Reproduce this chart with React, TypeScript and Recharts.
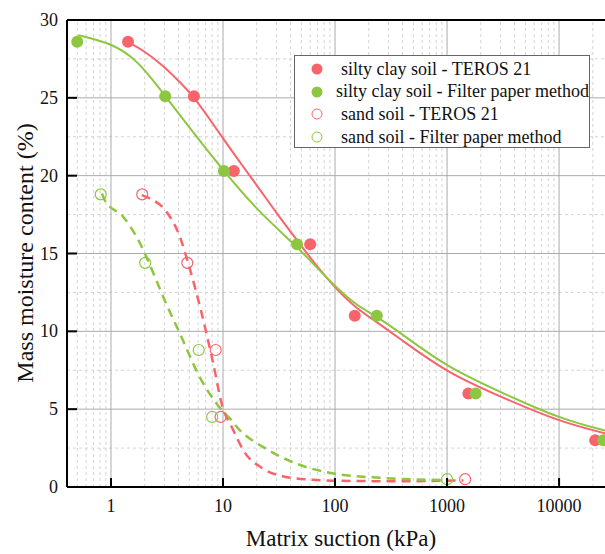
import { ComposedChart, XAxis, YAxis, Line, Scatter, ReferenceLine, Legend } from "recharts";

const RED = "#f8646b";
const GREEN = "#8dc63f";

// layout of the plot box inside the 605x554 svg
const W = 605;
const H = 554;
const PLOT_LEFT = 67;
const PLOT_TOP = 20;
const PLOT_BOTTOM = 487;

const xTicks = [1, 10, 100, 1000, 10000];
const yTicks = [0, 5, 10, 15, 20, 25, 30];
const yMinor = [2.5, 7.5, 12.5, 17.5, 22.5, 27.5];
const xMinor = [
  0.5, 0.6, 0.7, 0.8, 0.9,
  2, 3, 4, 5, 6, 7, 8, 9,
  20, 30, 40, 50, 60, 70, 80, 90,
  200, 300, 400, 500, 600, 700, 800, 900,
  2000, 3000, 4000, 5000, 6000, 7000, 8000, 9000,
  20000,
];

// measured points
const clayTeros = [
  { x: 1.42, y: 28.6 }, { x: 5.5, y: 25.1 }, { x: 12.5, y: 20.3 }, { x: 60, y: 15.6 },
  { x: 150, y: 11.0 }, { x: 1550, y: 6.0 }, { x: 21000, y: 3.0 },
];
const clayFilter = [
  { x: 0.5, y: 28.6 }, { x: 3.05, y: 25.1 }, { x: 10.2, y: 20.3 }, { x: 45.8, y: 15.6 },
  { x: 236, y: 11.0 }, { x: 1800, y: 6.0 }, { x: 24800, y: 3.0 },
];
const sandTeros = [
  { x: 1.9, y: 18.8 }, { x: 4.8, y: 14.4 }, { x: 8.6, y: 8.8 }, { x: 9.5, y: 4.5 }, { x: 1450, y: 0.5 },
];
const sandFilter = [
  { x: 0.81, y: 18.8 }, { x: 2.02, y: 14.4 }, { x: 6.07, y: 8.8 }, { x: 8.0, y: 4.5 }, { x: 1000, y: 0.5 },
];

// fitted curves
const clayTerosFit = [
  { x: 1.42, y: 28.57 }, { x: 2, y: 28.0 }, { x: 3, y: 27.0 }, { x: 4, y: 26.1 },
  { x: 5.5, y: 25.07 }, { x: 8, y: 23.4 }, { x: 10, y: 22.4 }, { x: 15, y: 20.6 },
  { x: 20, y: 19.4 }, { x: 30, y: 17.6 }, { x: 48.7, y: 15.6 }, { x: 70, y: 14.1 },
  { x: 100, y: 12.8 }, { x: 150, y: 11.55 }, { x: 236, y: 10.6 }, { x: 400, y: 9.4 },
  { x: 1000, y: 7.35 }, { x: 3000, y: 5.8 }, { x: 10000, y: 4.2 }, { x: 25700, y: 3.45 },
];
const clayFilterFit = [
  { x: 0.51, y: 29.03 }, { x: 1, y: 28.5 }, { x: 1.5, y: 27.7 }, { x: 2, y: 26.8 },
  { x: 3, y: 25.2 }, { x: 5, y: 23.1 }, { x: 10, y: 20.35 }, { x: 20, y: 17.8 },
  { x: 45.5, y: 15.45 }, { x: 70, y: 14.05 }, { x: 100, y: 12.9 }, { x: 150, y: 11.75 },
  { x: 236, y: 10.95 }, { x: 400, y: 9.8 }, { x: 1000, y: 7.7 }, { x: 3000, y: 6.1 },
  { x: 10000, y: 4.4 }, { x: 25700, y: 3.63 },
];
const sandTerosFit = [
  { x: 1.88, y: 18.75 }, { x: 2.23, y: 18.53 }, { x: 3.14, y: 17.67 }, { x: 4.13, y: 16.06 },
  { x: 4.9, y: 14.35 }, { x: 5.82, y: 12.42 }, { x: 6.9, y: 10.28 }, { x: 8.19, y: 7.92 },
  { x: 9.73, y: 5.35 }, { x: 12.4, y: 3.63 }, { x: 15.2, y: 2.35 }, { x: 22.9, y: 1.17 },
  { x: 34.6, y: 0.68 }, { x: 64, y: 0.46 }, { x: 100, y: 0.4 }, { x: 355, y: 0.37 },
  { x: 1400, y: 0.42 },
];
const sandFilterFit = [
  { x: 0.83, y: 18.85 }, { x: 0.88, y: 18.42 }, { x: 1.29, y: 17.35 }, { x: 1.82, y: 15.64 },
  { x: 2.47, y: 13.49 }, { x: 2.93, y: 12.2 }, { x: 4.13, y: 9.85 }, { x: 6.2, y: 7.06 },
  { x: 8.78, y: 5.35 }, { x: 11.55, y: 4.39 }, { x: 14.2, y: 3.63 }, { x: 22.9, y: 2.56 },
  { x: 55.9, y: 1.27 }, { x: 100, y: 0.85 }, { x: 253, y: 0.59 }, { x: 705, y: 0.46 },
  { x: 1000, y: 0.45 },
];

const legendItems = [
  { label: "silty clay soil - TEROS 21", color: RED, filled: true },
  { label: "silty clay soil - Filter paper method", color: GREEN, filled: true },
  { label: "sand soil - TEROS 21", color: RED, filled: false },
  { label: "sand soil - Filter paper method", color: GREEN, filled: false },
];

const FONT = "'Liberation Serif', 'Times New Roman', serif";

const XTick = ({ x, payload }: any) => (
  <g>
    <line x1={x} x2={x} y1={PLOT_BOTTOM} y2={PLOT_BOTTOM - 9} stroke="#000" strokeWidth={2} />
    <text x={x} y={512} textAnchor="middle" fontSize={18} fontFamily={FONT} fill="#111">
      {payload.value}
    </text>
  </g>
);

const YTick = ({ y, payload }: any) => (
  <g>
    {payload.value !== 30 && (
      <line x1={PLOT_LEFT} x2={PLOT_LEFT + 10} y1={y} y2={y} stroke="#000" strokeWidth={2} />
    )}
    <text x={58} y={y + 6} textAnchor="end" fontSize={18} fontFamily={FONT} fill="#111">
      {payload.value}
    </text>
  </g>
);

const Dot = (color: string, filled: boolean) => (props: any) => {
  const { cx, cy } = props;
  if (cx == null || cy == null) return null;
  return filled ? (
    <circle cx={cx} cy={cy} r={6} fill={color} />
  ) : (
    <circle cx={cx} cy={cy} r={5.5} fill="none" stroke={color} strokeWidth={1.2} />
  );
};

const LegendBox = () => (
  <div
    style={{
      width: 296,
      height: 93,
      border: "1px solid #666",
      background: "#fff",
      fontFamily: FONT,
      fontSize: 18,
      color: "#111",
      paddingTop: 2,
      boxSizing: "border-box",
    }}
  >
    {legendItems.map((it) => (
      <div key={it.label} style={{ display: "flex", alignItems: "center", height: 22.6, whiteSpace: "nowrap" }}>
        <svg width={46} height={16}>
          {it.filled ? (
            <circle cx={22} cy={8} r={5.5} fill={it.color} />
          ) : (
            <circle cx={22} cy={8} r={5} fill="none" stroke={it.color} strokeWidth={1} />
          )}
        </svg>
        <span>{it.label}</span>
      </div>
    ))}
  </div>
);

export default function App() {
  return (
    <div style={{ width: W, height: H }}>
      <style>{"body{margin:0;overflow:hidden}"}</style>
      <ComposedChart width={W} height={H} margin={{ top: PLOT_TOP, right: 0, bottom: 0, left: 0 }}>
        <XAxis
          dataKey="x"
          type="number"
          scale="log"
          domain={[0.405, 25700]}
          allowDataOverflow
          ticks={xTicks}
          tick={<XTick />}
          tickLine={false}
          axisLine={{ stroke: "#000", strokeWidth: 2 }}
          height={H - PLOT_BOTTOM}
          label={{
            content: () => (
              <text x={341} y={546} textAnchor="middle" fontSize={23} fontFamily={FONT} fill="#111">
                Matrix suction (kPa)
              </text>
            ),
          }}
        />
        <YAxis
          dataKey="y"
          type="number"
          domain={[0, 30]}
          ticks={yTicks}
          tick={<YTick />}
          tickLine={false}
          axisLine={{ stroke: "#000", strokeWidth: 2 }}
          width={PLOT_LEFT}
          label={{
            content: () => (
              <text
                transform="translate(33,253) rotate(-90)"
                textAnchor="middle"
                fontSize={24}
                fontFamily={FONT}
                fill="#111"
              >
                Mass moisture content (%)
              </text>
            ),
          }}
        />

        {xMinor.map((v) => (
          <ReferenceLine key={"xm" + v} x={v} stroke="#d4d4d4" strokeDasharray="3 3" strokeWidth={1} />
        ))}
        {yMinor.map((v) => (
          <ReferenceLine key={"ym" + v} y={v} stroke="#d4d4d4" strokeDasharray="3 3" strokeWidth={1} />
        ))}
        {xTicks.map((v) => (
          <ReferenceLine key={"xM" + v} x={v} stroke="#aaa" strokeWidth={1} />
        ))}
        {yTicks.slice(1, -1).map((v) => (
          <ReferenceLine key={"yM" + v} y={v} stroke="#aaa" strokeWidth={1} />
        ))}
        <ReferenceLine y={30} stroke="#000" strokeWidth={2} />

        <Line data={clayTerosFit} dataKey="y" type="basis" stroke={RED} strokeWidth={2} dot={false} isAnimationActive={false} legendType="none" />
        <Line data={clayFilterFit} dataKey="y" type="basis" stroke={GREEN} strokeWidth={2} dot={false} isAnimationActive={false} legendType="none" />
        <Line data={sandTerosFit} dataKey="y" type="monotone" stroke={RED} strokeWidth={2.5} strokeDasharray="9 6" dot={false} isAnimationActive={false} legendType="none" />
        <Line data={sandFilterFit} dataKey="y" type="monotone" stroke={GREEN} strokeWidth={2.5} strokeDasharray="9 6" dot={false} isAnimationActive={false} legendType="none" />

        <Scatter data={clayTeros} shape={Dot(RED, true)} isAnimationActive={false} />
        <Scatter data={clayFilter} shape={Dot(GREEN, true)} isAnimationActive={false} />
        <Scatter data={sandTeros} shape={Dot(RED, false)} isAnimationActive={false} />
        <Scatter data={sandFilter} shape={Dot(GREEN, false)} isAnimationActive={false} />

        <Legend
          layout="vertical"
          align="center"
          verticalAlign="middle"
          wrapperStyle={{ left: 294, top: 55, width: 296, height: 93 }}
          content={() => <LegendBox />}
        />
      </ComposedChart>
    </div>
  );
}
